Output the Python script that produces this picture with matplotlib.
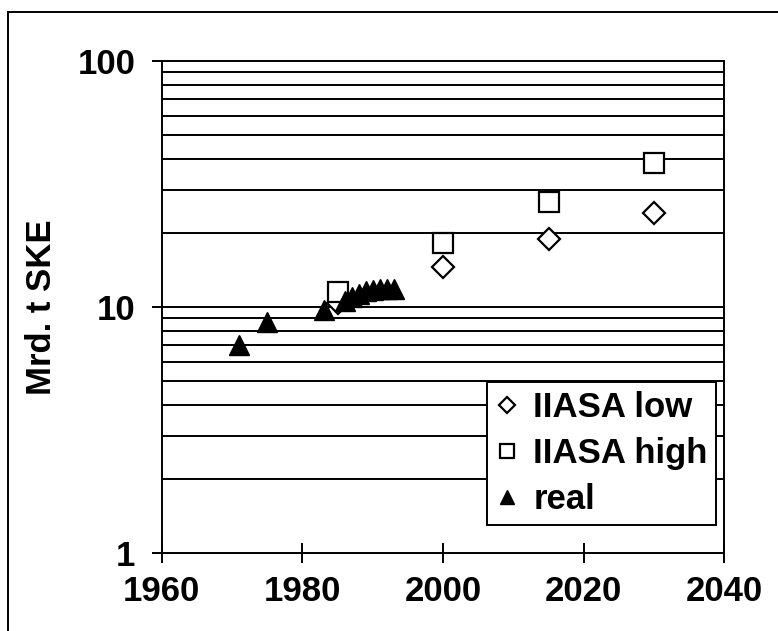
import matplotlib
matplotlib.use("Agg")
import matplotlib.pyplot as plt
from matplotlib.lines import Line2D

plt.rcParams['font.family'] = ['Liberation Sans', 'DejaVu Sans']
plt.rcParams['font.weight'] = 'bold'

# data
jahre_real = [1971, 1975, 1983, 1986, 1987, 1988, 1989, 1990, 1991, 1992, 1993]
werte_real = [7.0, 8.7, 9.7, 10.6, 11.0, 11.3, 11.6, 11.7, 11.8, 11.8, 11.9]

jahre_iiasa = [1985, 2000, 2015, 2030]
iiasa_low = [10.4, 14.5, 18.9, 24.1]
iiasa_high = [11.5, 18.2, 26.7, 38.5]

x_ticks = [1960, 1980, 2000, 2020, 2040]
y_ticks = [1, 10, 100]

fig = plt.figure(figsize=(7.78, 6.31), dpi=100)
ax = fig.add_axes([0.208, 0.1236, 0.723, 0.7794])

ax.set_yscale('log')
ax.set_ylim(1, 100)
ax.set_xlim(1960, 2040)

# horizontal grid at every minor step
for dek in [1, 10]:
    for k in range(2, 10):
        ax.axhline(dek * k, color='black', lw=1.4, zorder=1)
ax.axhline(10, color='black', lw=1.4, zorder=1)

ax.plot(jahre_iiasa, iiasa_low, linestyle='none', marker='D', ms=11,
        mfc='white', mec='black', mew=1.6, label='IIASA low', zorder=3)
ax.plot(jahre_iiasa, iiasa_high, linestyle='none', marker='s', ms=14,
        mfc='white', mec='black', mew=1.6, label='IIASA high', zorder=3)
ax.plot(jahre_real, werte_real, linestyle='none', marker='^', ms=14,
        mfc='black', mec='black', label='real', zorder=4)

ax.set_xticks(x_ticks)
ax.set_xticklabels([str(j) for j in x_ticks])
ax.set_yticks(y_ticks)
ax.set_yticklabels(['1', '10', '100'])
ax.yaxis.set_minor_locator(matplotlib.ticker.NullLocator())
ax.tick_params(axis='x', direction='inout', length=14, width=1.4, labelsize=25, pad=9)
ax.tick_params(axis='y', direction='out', length=7, width=1.4, labelsize=25, pad=12)
for s in ax.spines.values():
    s.set_linewidth(1.4)

ax.set_ylabel('Mrd. t SKE', fontsize=25, fontweight='bold')
ax.yaxis.set_label_coords(-0.185, 0.5)

leg = ax.legend(loc='lower right', bbox_to_anchor=(0.986, 0.057), fontsize=25,
                frameon=True, fancybox=False, edgecolor='black', framealpha=1,
                markerscale=0.75, handlelength=0.7, handletextpad=0.4,
                labelspacing=0.38, borderpad=0.25, borderaxespad=0)
leg.get_frame().set_linewidth(1.4)

# Rahmen um die Grafik (oben und links)
fig.add_artist(Line2D([0.0103, 1.0], [0.981, 0.981], color='black', lw=1.4))
fig.add_artist(Line2D([0.0103, 0.0103], [0.0, 0.981], color='black', lw=1.4))

fig.savefig('out.png', dpi=100)
